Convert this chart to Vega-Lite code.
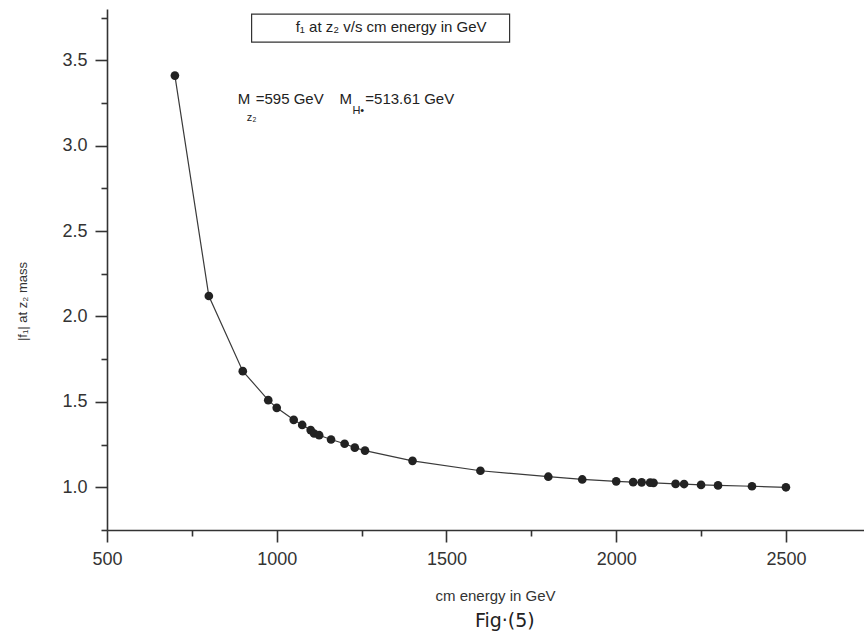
{
  "$schema": "https://vega.github.io/schema/vega-lite/v6.json",
  "width": 757,
  "height": 521,
  "autosize": "none",
  "padding": {"left": 107, "top": 9, "right": 0, "bottom": 106},
  "background": "white",
  "config": {
    "view": {"stroke": null},
    "font": "Liberation Sans",
    "axis": {"grid": false}
  },
  "data": {
    "values": [
      {"x": 700, "y": 3.41},
      {"x": 800, "y": 2.12},
      {"x": 900, "y": 1.68},
      {"x": 975, "y": 1.51},
      {"x": 1000, "y": 1.465},
      {"x": 1050, "y": 1.395},
      {"x": 1075, "y": 1.365},
      {"x": 1100, "y": 1.335},
      {"x": 1110, "y": 1.315},
      {"x": 1125, "y": 1.305},
      {"x": 1160, "y": 1.28},
      {"x": 1200, "y": 1.255},
      {"x": 1230, "y": 1.232},
      {"x": 1260, "y": 1.215},
      {"x": 1400, "y": 1.155},
      {"x": 1600, "y": 1.097},
      {"x": 1800, "y": 1.062},
      {"x": 1900, "y": 1.046},
      {"x": 2000, "y": 1.035},
      {"x": 2050, "y": 1.03},
      {"x": 2075, "y": 1.029},
      {"x": 2100, "y": 1.027},
      {"x": 2110, "y": 1.026},
      {"x": 2175, "y": 1.02},
      {"x": 2200, "y": 1.019},
      {"x": 2250, "y": 1.014},
      {"x": 2300, "y": 1.011},
      {"x": 2400, "y": 1.006},
      {"x": 2500, "y": 1.0}
    ]
  },
  "encoding": {
    "x": {
      "field": "x",
      "type": "quantitative",
      "scale": {"domain": [500, 2730], "nice": false, "zero": false},
      "axis": {
        "values": [500, 750, 1000, 1250, 1500, 1750, 2000, 2250, 2500],
        "format": "d",
        "labelExpr": "datum.value % 500 === 0 ? datum.label : ''",
        "tickSize": {"condition": {"test": "datum.value % 500 !== 0", "value": 6}, "value": 12},
        "domainColor": "#333",
        "domainWidth": 1.6,
        "tickColor": "#333",
        "tickWidth": 1.6,
        "labelFontSize": 18,
        "labelColor": "#333",
        "labelPadding": 8,
        "labelFlush": false,
        "title": "cm energy in GeV",
        "titleFontSize": 15,
        "titleFontWeight": "normal",
        "titleColor": "#333",
        "titleX": 388,
        "titleY": 65,
        "titleBaseline": "middle"
      }
    },
    "y": {
      "field": "y",
      "type": "quantitative",
      "scale": {"domain": [0.75, 3.8], "nice": false, "zero": false},
      "axis": {
        "values": [0.75, 1, 1.25, 1.5, 1.75, 2, 2.25, 2.5, 2.75, 3, 3.25, 3.5, 3.75],
        "format": ".1f",
        "labelExpr": "abs(datum.value * 2 - round(datum.value * 2)) < 0.01 ? datum.label : ''",
        "tickSize": {"condition": {"test": "abs(datum.value * 2 - round(datum.value * 2)) > 0.01", "value": 6}, "value": 12},
        "domainColor": "#333",
        "domainWidth": 1.6,
        "tickColor": "#333",
        "tickWidth": 1.6,
        "labelFontSize": 18,
        "labelColor": "#333",
        "labelPadding": 8,
        "labelFlush": false,
        "title": "|f₁| at  z₂ mass",
        "titleFontSize": 13,
        "titleFontWeight": "normal",
        "titleColor": "#333",
        "titleAngle": -90,
        "titleX": -85,
        "titleY": 292,
        "titleAlign": "center",
        "titleBaseline": "middle"
      }
    }
  },
  "layer": [
    {
      "mark": {"type": "line", "color": "#3a3a3a", "strokeWidth": 1.2, "interpolate": "linear"}
    },
    {
      "mark": {"type": "point", "filled": true, "size": 75, "color": "#222", "opacity": 1}
    },
    {
      "data": {"values": [{"x": 926, "x2": 1686, "y": 3.77, "y2": 3.606}]},
      "mark": {"type": "rect", "fill": "white", "fillOpacity": 0, "stroke": "#333", "strokeWidth": 1.2},
      "encoding": {
        "x2": {"field": "x2"},
        "y2": {"field": "y2"}
      }
    },
    {
      "data": {"values": [{"x": 1337, "y": 3.694, "t": "f₁ at z₂ v/s cm energy in GeV"}]},
      "mark": {"type": "text", "fontSize": 15, "color": "#222", "align": "center", "baseline": "middle"},
      "encoding": {"text": {"field": "t"}}
    },
    {
      "data": {"values": [
        {"x": 885, "y": 3.273, "t": "M"},
        {"x": 938, "y": 3.273, "t": "=595 GeV"},
        {"x": 1185, "y": 3.273, "t": "M"},
        {"x": 1261, "y": 3.273, "t": "=513.61 GeV"}
      ]},
      "mark": {"type": "text", "fontSize": 15, "color": "#222", "align": "left", "baseline": "middle"},
      "encoding": {"text": {"field": "t"}}
    },
    {
      "data": {"values": [
        {"x": 912, "y": 3.16, "t": "z₂"},
        {"x": 1223, "y": 3.2, "t": "H•"}
      ]},
      "mark": {"type": "text", "fontSize": 11, "color": "#222", "align": "left", "baseline": "middle"},
      "encoding": {"text": {"field": "t"}}
    },
    {
      "data": {"values": [{"x": 1672, "y": 0.22, "t": "Fig·(5)"}]},
      "mark": {"type": "text", "fontSize": 19, "color": "#222", "align": "center", "baseline": "middle", "font": "DejaVu Sans"},
      "encoding": {"text": {"field": "t"}}
    }
  ]
}
